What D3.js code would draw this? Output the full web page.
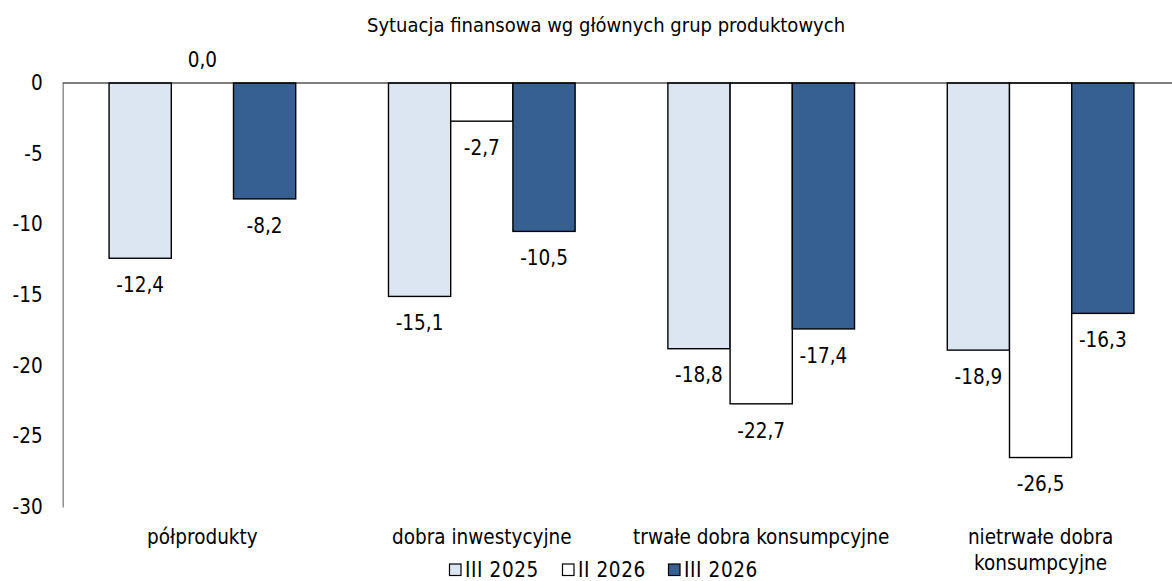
<!DOCTYPE html>
<html>
<head>
<meta charset="utf-8">
<script src="https://cdn.jsdelivr.net/npm/d3@7"></script>
<style>
  html, body { margin: 0; padding: 0; background: #fff; }
  svg { display: block; font-family: "DejaVu Sans Condensed", "DejaVu Sans", sans-serif; font-stretch: condensed; }
</style>
</head>
<body>
<svg id="chart" width="1172" height="581"></svg>
<script>
// Financial situation by main product groups (balance, %)
const title = "Sytuacja finansowa wg głównych grup produktowych";
const categories = ["półprodukty", "dobra inwestycyjne", "trwałe dobra konsumpcyjne", "nietrwałe dobra konsumpcyjne"];
const seriesNames = ["III 2025", "II 2026", "III 2026"];
const valuesIII2025 = [-12.4, -15.1, -18.8, -18.9];
const valuesII2026 = [0.0, -2.7, -22.7, -26.5];
const valuesIII2026 = [-8.2, -10.5, -17.4, -16.3];
const yTicks = [0, -5, -10, -15, -20, -25, -30];
const colors = ["#dce6f2", "#ffffff", "#366092"];

const seriesValues = [valuesIII2025, valuesII2026, valuesIII2026];
const rows = categories.map((c, i) => ({
  category: c,
  values: seriesNames.map((s, j) => ({ series: s, idx: j, value: seriesValues[j][i] }))
}));

const svg = d3.select("#chart");
const W = 1172;
const FS = 20.5;

const x0 = d3.scaleBand().domain(categories).range([62.7, 1180.3]).paddingInner(0.332).paddingOuter(0.166);
const x1 = d3.scaleBand().domain(seriesNames).range([0, x0.bandwidth()]).padding(0);
const y = d3.scaleLinear().domain([-30, 0]).range([507, 83]);

const fmt = v => d3.format(".1f")(v).replace(".", ",").replace("−", "-");

// title
svg.append("text")
  .attr("x", 606).attr("y", 32)
  .attr("text-anchor", "middle")
  .attr("font-size", 20)
  .attr("fill", "#000")
  .text(title);

// y axis
const yAxis = d3.axisLeft(y).tickValues(yTicks).tickSize(0).tickPadding(20)
  .tickFormat(d => String(d));
const gy = svg.append("g").attr("transform", `translate(${62.7},0)`).call(yAxis);
gy.select(".domain").attr("stroke", "#808080").attr("stroke-width", 1.3);
gy.selectAll("text").attr("font-size", FS).attr("fill", "#000")
  .attr("font-family", "DejaVu Sans Condensed, DejaVu Sans, sans-serif");

// bars
const groups = svg.append("g").selectAll("g").data(rows).join("g")
  .attr("transform", d => `translate(${x0(d.category)},0)`);

groups.selectAll("rect").data(d => d.values).join("rect")
  .attr("x", d => x1(d.series))
  .attr("y", d => y(Math.max(0, d.value)))
  .attr("width", x1.bandwidth())
  .attr("height", d => Math.abs(y(d.value) - y(0)))
  .attr("fill", d => colors[d.idx])
  .attr("stroke", "#000")
  .attr("stroke-width", 1.4);

// zero line
svg.append("line")
  .attr("x1", 62.7).attr("x2", W)
  .attr("y1", y(0)).attr("y2", y(0))
  .attr("stroke", "#000").attr("stroke-width", 1.2);

// value labels
groups.selectAll("text.val").data(d => d.values).join("text")
  .attr("class", "val")
  .attr("x", d => x1(d.series) + x1.bandwidth() / 2)
  .attr("y", d => d.value < 0 ? y(d.value) + 26.5 : y(d.value) - 23)
  .attr("dy", "0.35em")
  .attr("text-anchor", "middle")
  .attr("font-size", FS)
  .attr("fill", "#000")
  .text(d => fmt(d.value));

// category labels, wrapped to fit under each group
const wrapWidth = 265;
const catG = svg.append("g");
categories.forEach(c => {
  const cx = x0(c) + x0.bandwidth() / 2;
  const t = catG.append("text")
    .attr("x", cx)
    .attr("y", 537)
    .attr("dy", "0.35em")
    .attr("text-anchor", "middle")
    .attr("font-size", FS)
    .attr("fill", "#000");
  const words = c.split(" ");
  let line = [];
  let tspan = t.append("tspan").attr("x", cx);
  words.forEach(w => {
    line.push(w);
    tspan.text(line.join(" "));
    if (tspan.node().getComputedTextLength() > wrapWidth && line.length > 1) {
      line.pop();
      tspan.text(line.join(" "));
      line = [w];
      tspan = t.append("tspan").attr("x", cx).attr("dy", 26).text(w);
    }
  });
});

// legend
const legend = svg.append("g").attr("transform", "translate(449,570)");
const legendX = [0, 113, 219];
seriesNames.forEach((s, i) => {
  const g = legend.append("g").attr("transform", `translate(${legendX[i]},0)`);
  g.append("rect").attr("x", 0.5).attr("y", -6).attr("width", 11.5).attr("height", 11.5)
    .attr("fill", colors[i]).attr("stroke", "#000").attr("stroke-width", 1.2);
  g.append("text").attr("x", 16).attr("y", 0).attr("dy", "0.35em")
    .attr("font-size", FS).attr("letter-spacing", 0.6).attr("fill", "#000").text(s);
});
</script>
</body>
</html>
